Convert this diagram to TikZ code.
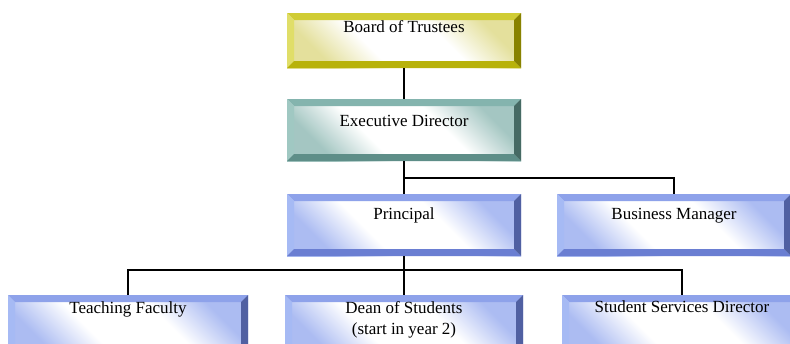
\documentclass[tikz,border=0pt]{standalone}
\usepackage{fontspec}
\setmainfont{Liberation Serif}
% bevel colours: top, left, bottom, right, face tint
\definecolor{yTop}{RGB}{208,204,52}
\definecolor{yLeft}{RGB}{224,222,104}
\definecolor{yBot}{RGB}{184,178,10}
\definecolor{yRight}{RGB}{136,130,0}
\definecolor{yFace}{RGB}{228,224,156}
\definecolor{tTop}{RGB}{132,180,174}
\definecolor{tLeft}{RGB}{160,200,194}
\definecolor{tBot}{RGB}{94,142,136}
\definecolor{tRight}{RGB}{70,106,100}
\definecolor{tFace}{RGB}{164,198,194}
\definecolor{bTop}{RGB}{142,162,234}
\definecolor{bLeft}{RGB}{166,186,244}
\definecolor{bBot}{RGB}{106,126,210}
\definecolor{bRight}{RGB}{80,96,162}
\definecolor{bFace}{RGB}{172,188,242}
% soft diagonal faces: tint at two corners, wide white middle
\newcommand\declareface[2]{%
  \pgfdeclareverticalshading{#1}{100bp}{%
    color(0bp)=(#2); color(26bp)=(#2); color(40bp)=(white);
    color(60bp)=(white); color(74bp)=(#2); color(100bp)=(#2)}}
\declareface{yface}{yFace}
\declareface{tface}{tFace}
\declareface{bface}{bFace}
\begin{document}
\begin{tikzpicture}[x=1pt,y=-1pt,
  bevelbox/.style n args={5}{shape=rectangle, inner sep=0pt, minimum height=62pt,
    shading=#5, shading angle=-45,
    path picture={
      \path (path picture bounding box.north west) coordinate (bnw)
            (path picture bounding box.north east) coordinate (bne)
            (path picture bounding box.south west) coordinate (bsw)
            (path picture bounding box.south east) coordinate (bse);
      \path ([shift={(7pt,-7pt)}]bnw) coordinate (inw)
            ([shift={(-7pt,-7pt)}]bne) coordinate (ine)
            ([shift={(7pt,7pt)}]bsw) coordinate (isw)
            ([shift={(-7pt,7pt)}]bse) coordinate (ise);
      \fill[#1] (bnw) -- (bne) -- (ine) -- (inw) -- cycle;
      \fill[#2] (bnw) -- (inw) -- (isw) -- (bsw) -- cycle;
      \fill[#3] (bsw) -- (isw) -- (ise) -- (bse) -- cycle;
      \fill[#4] (bne) -- (bse) -- (ise) -- (ine) -- cycle;
    }},
  yellowbox/.style={bevelbox={yTop}{yLeft}{yBot}{yRight}{yface}},
  tealbox/.style={bevelbox={tTop}{tLeft}{tBot}{tRight}{tface}},
  bluebox/.style={bevelbox={bTop}{bLeft}{bBot}{bRight}{bface}},
  lbl/.style={font=\fontsize{17}{21}\selectfont, align=center, inner sep=0pt, anchor=base},
  conn/.style={draw=black, line width=1.8pt},
]
\useasboundingbox (0,0) rectangle (790,343);

% boxes
\node[yellowbox, minimum width=234pt, minimum height=55pt] (board) at (404,40.5) {};
\node[tealbox, minimum width=234pt] (exec) at (404,130) {};
\node[bluebox, minimum width=234pt] (prin) at (404,225) {};
\node[bluebox, minimum width=234pt] (bm) at (674,225) {};
\node[bluebox, minimum width=240pt] (tf) at (128,326) {};
\node[bluebox, minimum width=238pt] (dean) at (404,326) {};
\node[bluebox, minimum width=240pt] (ssd) at (682,326) {};

% junctions
\coordinate (j1) at (404,178);
\coordinate (j2) at (404,270);

% connectors
\draw[conn] (board) -- (exec);
\draw[conn] (exec) -- (prin);
\draw[conn] (j1) -| (bm.north);
\draw[conn] (prin) -- (dean);
\draw[conn] (tf.north) |- (j2) -| (ssd.north);

% labels
\node[lbl] (board-t) at (404,32) {Board of Trustees};
\node[lbl] (exec-t) at (404,126) {Executive Director};
\node[lbl] (prin-t) at (404,219) {Principal};
\node[lbl] (bm-t) at (674,219) {Business Manager};
\node[lbl] (tf-t) at (128,313) {Teaching Faculty};
\node[lbl] (dean-t) at (404,334) {Dean of Students\\(start in year 2)};
\node[lbl] (ssd-t) at (682,312) {Student Services Director};
\end{tikzpicture}
\end{document}
